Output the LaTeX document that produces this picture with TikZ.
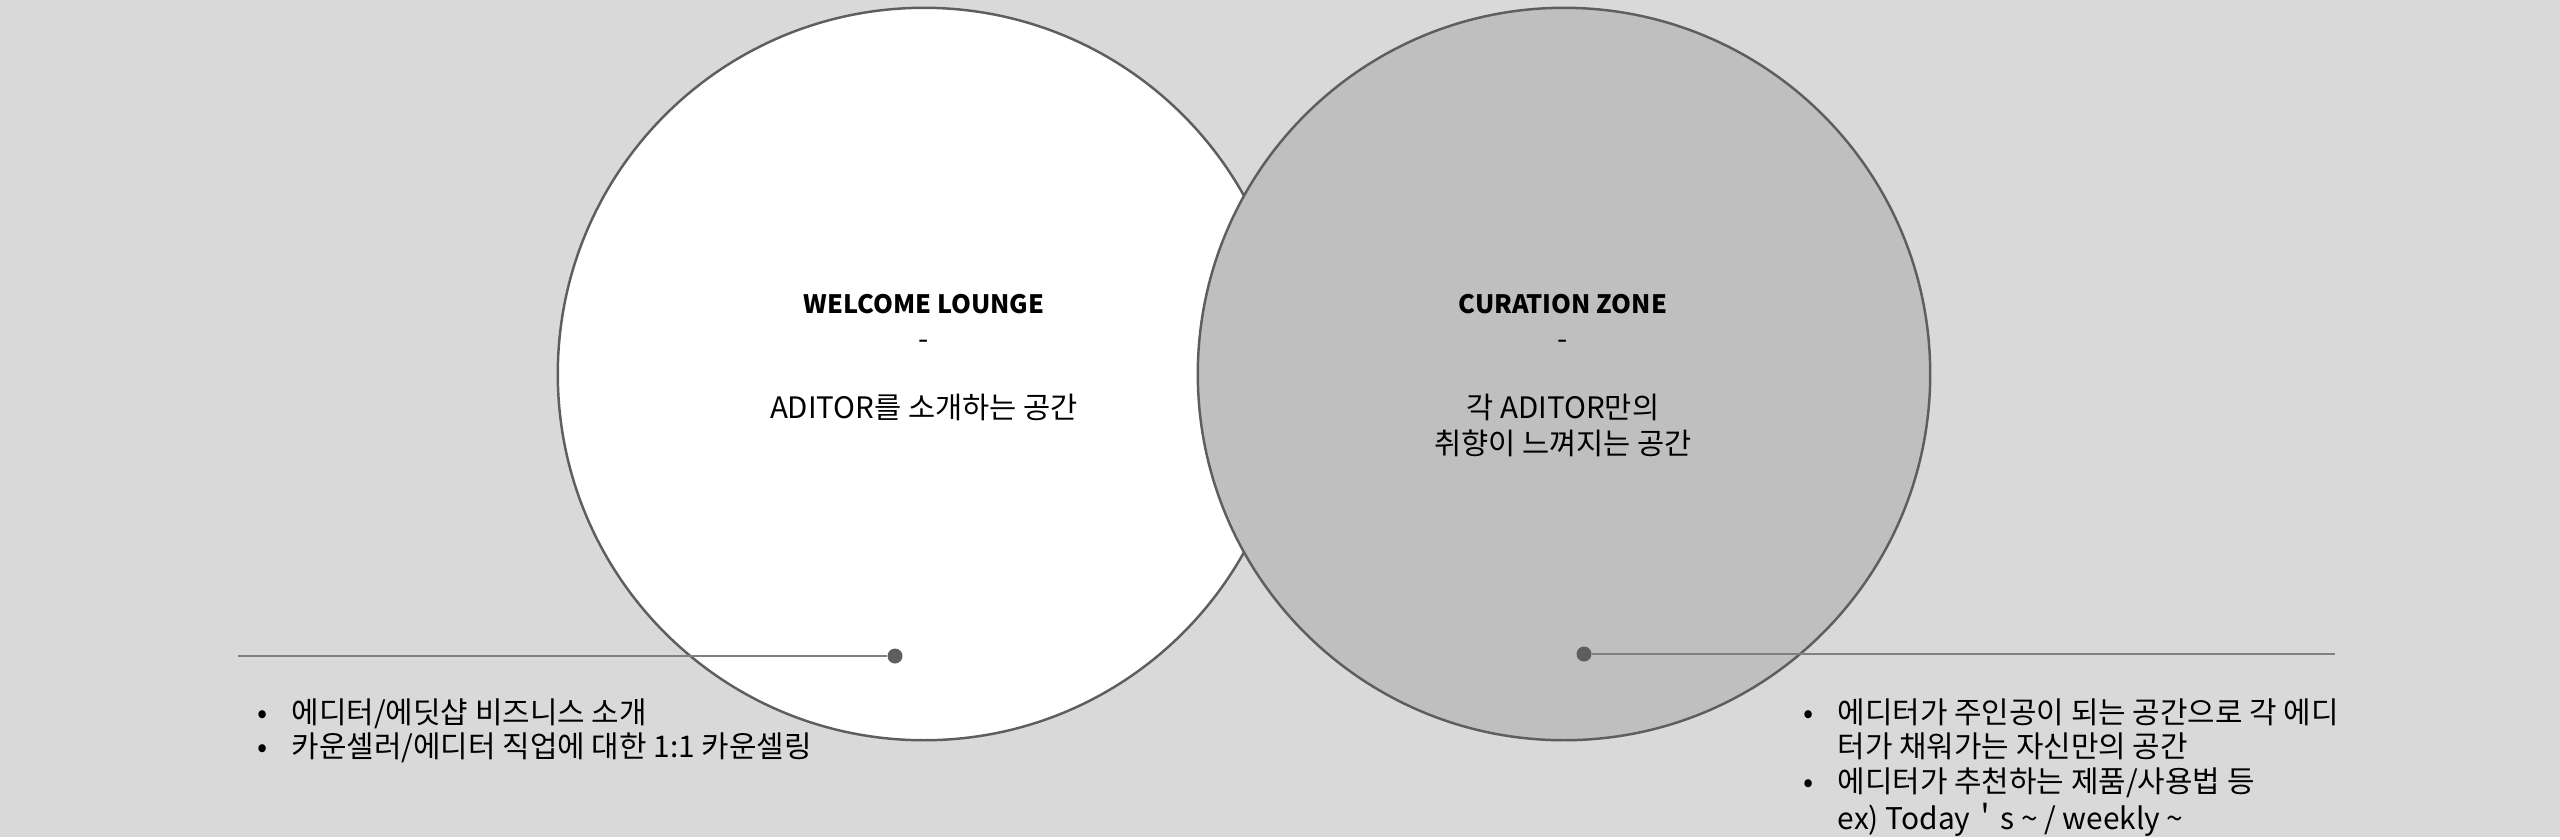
\documentclass[tikz,border=0pt]{standalone}
\usepackage{fontspec}
\setmainfont{Noto Sans CJK KR}
\definecolor{backdrop}{HTML}{D9D9D9}
\definecolor{zonegrey}{HTML}{BFBFBF}
\definecolor{zoneline}{HTML}{5E5E5E}
\definecolor{leadline}{HTML}{808080}
\begin{document}
\begin{tikzpicture}[x=0.01cm, y=-0.01cm]
\tikzstyle{zone} = [circle, draw = zoneline, line width = 0.7pt, minimum size = 7.32cm, inner sep = 0 pt]
\tikzstyle{mydot} = [circle, minimum width = 0.15cm, fill = zoneline, inner sep = 0 pt]
\tikzstyle{zonetext} = [align = center, anchor = base, inner sep = 0 pt, font = \fontsize{8.4}{10.2}\selectfont]
\tikzstyle{notes} = [anchor = base west, inner sep = 0 pt, font = \fontsize{8.5}{9.67}\selectfont]
\newcommand{\zonetitle}[1]{{\fontsize{7.2}{10.2}\selectfont\bfseries #1}}
\newcommand{\notebullet}{\makebox[0.34cm][l]{•}}
\fill [backdrop] (0,0) rectangle (2560,837);

% the two zones
\node [zone, fill = white] (lounge) at (924,374) {};
\node [zone, fill = zonegrey] (curation) at (1564,374) {};
\node [zonetext] (loungeT) at (924,418) {\zonetitle{WELCOME LOUNGE}\\-\\[0.33cm]ADITOR를 소개하는 공간};
\node [zonetext] (curationT) at (1563,454) {\zonetitle{CURATION ZONE}\\-\\[0.33cm]각 ADITOR만의\\취향이 느껴지는 공간};

% leader lines
\node [mydot] (loungeDot) at (895,656) {};
\node [mydot] (curationDot) at (1584,654) {};
\coordinate (loungeEnd) at (238,656);
\coordinate (curationEnd) at (2335,654);
\draw [leadline, line width = 0.45pt] (loungeEnd) -- (loungeDot);
\draw [leadline, line width = 0.45pt] (curationDot) -- (curationEnd);

% notes
\node [notes] (loungeN) at (257,723) {\begin{tabular}[t]{@{}l@{}l@{}}
\notebullet & 에디터/에딧샵 비즈니스 소개\\
\notebullet & 카운셀러/에디터 직업에 대한 1:1 카운셀링
\end{tabular}};
\node [notes] (curationN) at (1803,723) {\begin{tabular}[t]{@{}l@{}l@{}}
\notebullet & 에디터가 주인공이 되는 공간으로 각 에디\\
 & 터가 채워가는 자신만의 공간\\
\notebullet & 에디터가 추천하는 제품/사용법 등\\
 & ex) Today＇s \textasciitilde{} / weekly \textasciitilde{}
\end{tabular}};
\end{tikzpicture}
\end{document}
